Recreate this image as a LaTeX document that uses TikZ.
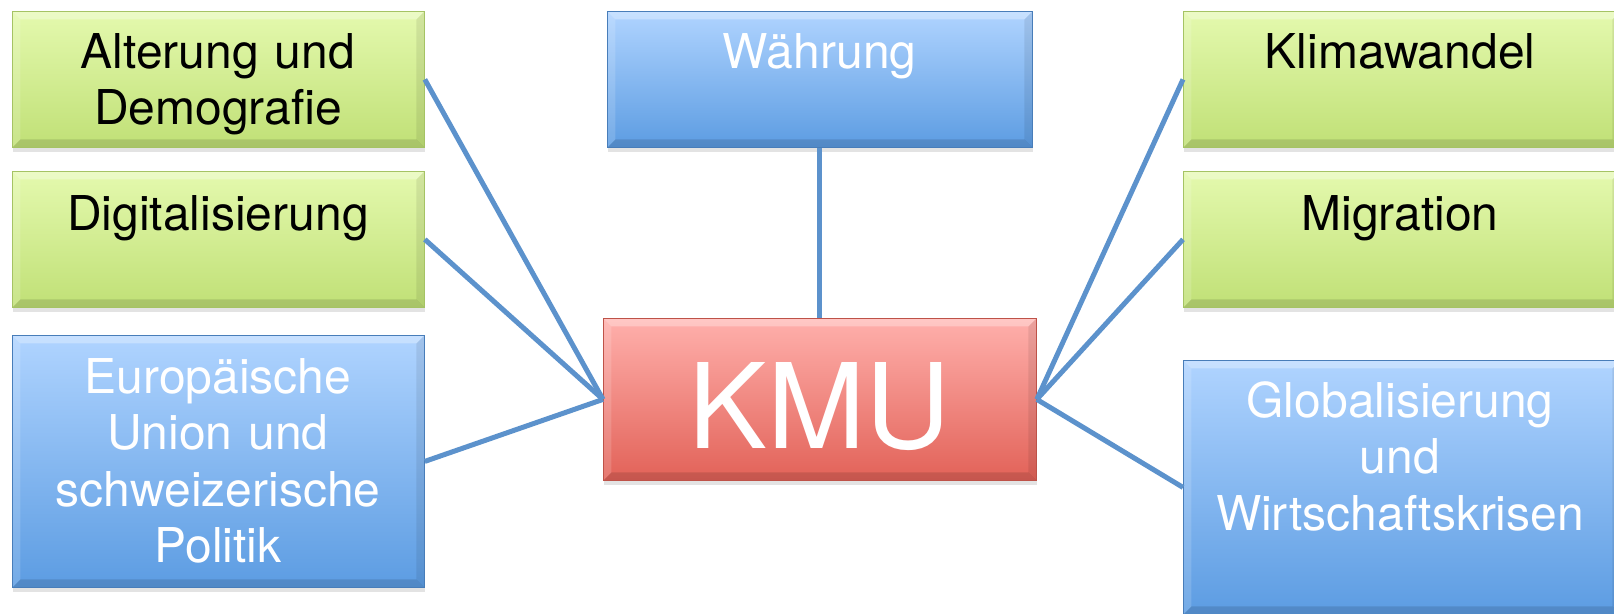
\documentclass[tikz,border=0pt]{standalone}
\usepackage{fontspec}
\setmainfont{TeX Gyre Heros}
\usetikzlibrary{shadows}

\definecolor{greenTop}{RGB}{228,249,174}
\definecolor{greenBot}{RGB}{192,224,118}
\definecolor{greenLine}{RGB}{165,195,100}
\definecolor{blueTop}{RGB}{176,212,255}
\definecolor{blueBot}{RGB}{92,156,226}
\definecolor{blueLine}{RGB}{72,125,185}
\definecolor{redTop}{RGB}{255,176,172}
\definecolor{redBot}{RGB}{226,98,88}
\definecolor{redLine}{RGB}{190,82,72}
\definecolor{linkBlue}{RGB}{92,146,204}

\begin{document}
\begin{tikzpicture}[x=1pt,y=-1pt,
  bevel/.style={path picture={
    \fill[white, opacity=0.3] (path picture bounding box.north west)
      -- (path picture bounding box.north east)
      -- ([xshift=-8pt,yshift=-8pt]path picture bounding box.north east)
      -- ([xshift=8pt,yshift=-8pt]path picture bounding box.north west) -- cycle;
    \fill[white, opacity=0.15] (path picture bounding box.north west)
      -- ([xshift=8pt,yshift=-8pt]path picture bounding box.north west)
      -- ([xshift=8pt,yshift=8pt]path picture bounding box.south west)
      -- (path picture bounding box.south west) -- cycle;
    \fill[black, opacity=0.08] (path picture bounding box.north east)
      -- ([xshift=-8pt,yshift=-8pt]path picture bounding box.north east)
      -- ([xshift=-8pt,yshift=8pt]path picture bounding box.south east)
      -- (path picture bounding box.south east) -- cycle;
    \fill[black, opacity=0.12] (path picture bounding box.south west)
      -- ([xshift=8pt,yshift=8pt]path picture bounding box.south west)
      -- ([xshift=-8pt,yshift=8pt]path picture bounding box.south east)
      -- (path picture bounding box.south east) -- cycle;
  }},
  box/.style={anchor=north west, inner sep=0pt, line width=0.8pt, bevel,
    drop shadow={shadow xshift=1pt, shadow yshift=-5pt, opacity=0.22}},
  greenbox/.style={box, top color=greenTop, bottom color=greenBot, draw=greenLine},
  bluebox/.style={box, top color=blueTop, bottom color=blueBot, draw=blueLine},
  redbox/.style={box, top color=redTop, bottom color=redBot, draw=redLine},
  lbl/.style={anchor=base, text width=430pt, align=center,
    font=\fontsize{48}{56.5}\selectfont},
  link/.style={draw=linkBlue, line width=5pt}
]
\useasboundingbox (0,0) rectangle (1614,613);

% left column
\node[greenbox, minimum width=412pt, minimum height=136pt] (alterung) at (12,11) {};
\node[greenbox, minimum width=412pt, minimum height=136pt] (digital) at (12,171) {};
\node[bluebox, minimum width=412pt, minimum height=252pt] (europa) at (12,335) {};

% middle
\node[bluebox, minimum width=425pt, minimum height=136pt] (waehrung) at (607,11) {};
\node[redbox, minimum width=433pt, minimum height=162pt] (kmu) at (603,318) {};

% right column
\node[greenbox, minimum width=437pt, minimum height=136pt] (klima) at (1183,11) {};
\node[greenbox, minimum width=437pt, minimum height=136pt] (migration) at (1183,171) {};
\node[bluebox, minimum width=437pt, minimum height=254pt] (global) at (1183,360) {};

% texts
\node[lbl] (alterungT) at (218,68) {Alterung und\\Demografie};
\node[lbl] (digitalT) at (218,230) {Digitalisierung};
\node[lbl, text=white] (europaT) at (218,393)
  {Europäische\\Union und\\schweizerische\\Politik};
\node[lbl, text=white] (waehrungT) at (819.5,68) {Währung};
\node[lbl, text=white, font=\fontsize{118}{130}\selectfont] (kmuT) at (819.5,448) {KMU};
\node[lbl] (klimaT) at (1400,68) {Klimawandel};
\node[lbl] (migrationT) at (1400,230) {Migration};
\node[lbl, text=white] (globalT) at (1400,417)
  {Globalisierung\\und\\Wirtschaftskrisen};

% connectors
\draw[link] (alterung.east) -- (kmu.west);
\draw[link] (digital.east) -- (kmu.west);
\draw[link] (europa.east) -- (kmu.west);
\draw[link] (waehrung.south) -- (kmu.north);
\draw[link] (klima.west) -- (kmu.east);
\draw[link] (migration.west) -- (kmu.east);
\draw[link] (global.west) -- (kmu.east);
\end{tikzpicture}
\end{document}
